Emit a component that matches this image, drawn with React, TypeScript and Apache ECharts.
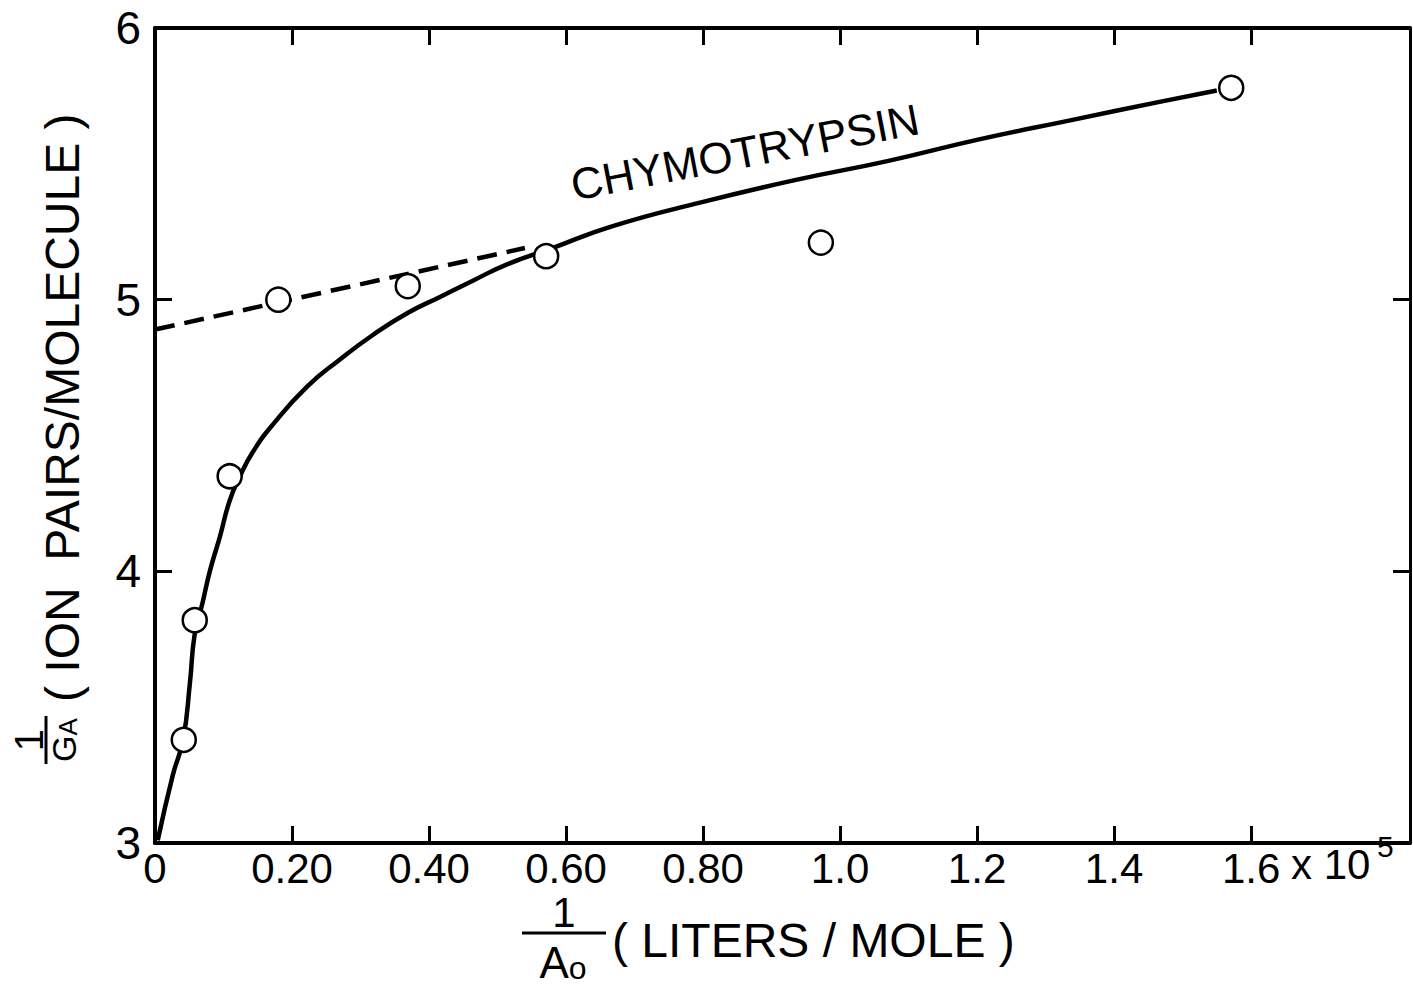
import React, { useEffect, useRef } from "react";
import * as echarts from "echarts";

// 1/Ao (x 10^5 liters/mole) vs 1/GA (ion pairs/molecule)
const pointsX = [0.042, 0.058, 0.109, 0.18, 0.369, 0.571, 0.972, 1.571];
const pointsY = [3.38, 3.82, 4.35, 5.0, 5.05, 5.16, 5.21, 5.78];

const curveX = [0.004, 0.026, 0.041, 0.051, 0.058, 0.069, 0.08, 0.095, 0.109, 0.124, 0.143, 0.172, 0.222, 0.27, 0.318, 0.368, 0.416, 0.464, 0.514, 0.58, 0.667, 0.8, 0.934, 1.069, 1.203, 1.336, 1.47, 1.55];
const curveY = [3.01, 3.25, 3.38, 3.59, 3.77, 3.88, 4.0, 4.13, 4.26, 4.35, 4.44, 4.54, 4.68, 4.78, 4.87, 4.95, 5.01, 5.07, 5.13, 5.19, 5.27, 5.36, 5.44, 5.51, 5.59, 5.66, 5.73, 5.77];

const dashX = [0, 0.54];
const dashY = [4.89, 5.19];

const xTickValues = [0, 0.2, 0.4, 0.6, 0.8, 1.0, 1.2, 1.4, 1.6];
const xTickLabels = ["0", "0.20", "0.40", "0.60", "0.80", "1.0", "1.2", "1.4", "1.6"];
const yTickValues = [3, 4, 5, 6];
const yTickLabels = ["3", "4", "5", "6"];
const yInnerTicks = [4, 5];

const X_MIN = 0;
const X_MAX = 1.832;
const Y_MIN = 3;
const Y_MAX = 6;

const FONT = "Liberation Sans";

function labelFor(values: number[], labels: string[], v: number): string {
  for (let i = 0; i < values.length; i++) {
    if (Math.abs(values[i] - v) < 1e-6) return labels[i];
  }
  return "";
}

export default function App() {
  const ref = useRef<HTMLDivElement>(null);

  useEffect(() => {
    if (!ref.current) return;
    const chart = echarts.init(ref.current, null, { renderer: "svg" });

    const curve = curveX.map((x, i) => [x, curveY[i]]);
    const dash = dashX.map((x, i) => [x, dashY[i]]);
    const pts = pointsX.map((x, i) => [x, pointsY[i]]);

    const tickStyle = { color: "#000", width: 3 };
    const axisLine = (w: number) => ({ show: true, onZero: false, lineStyle: { color: "#000", width: w } });

    chart.setOption({
      animation: false,
      backgroundColor: "#fff",
      grid: { left: 155, right: 3, top: 28, bottom: 148, containLabel: false, outerBoundsMode: "none" },
      xAxis: [
        {
          type: "value",
          min: X_MIN,
          max: X_MAX,
          position: "bottom",
          axisLine: axisLine(4),
          splitLine: { show: false },
          axisTick: { show: true, inside: true, length: 17, lineStyle: tickStyle, customValues: xTickValues },
          axisLabel: {
            customValues: xTickValues,
            formatter: (v: number) => labelFor(xTickValues, xTickLabels, v),
            color: "#000",
            fontFamily: FONT,
            fontSize: 42,
            margin: 4,
          },
        },
        {
          type: "value",
          min: X_MIN,
          max: X_MAX,
          position: "top",
          axisLine: axisLine(4),
          splitLine: { show: false },
          axisTick: { show: true, inside: true, length: 17, lineStyle: tickStyle, customValues: xTickValues.slice(1) },
          axisLabel: { show: false },
        },
      ],
      yAxis: [
        {
          type: "value",
          min: Y_MIN,
          max: Y_MAX,
          interval: 1,
          position: "left",
          axisLine: axisLine(4),
          splitLine: { show: false },
          axisTick: { show: true, inside: true, length: 17, lineStyle: tickStyle, customValues: yInnerTicks },
          axisLabel: {
            customValues: yTickValues,
            formatter: (v: number) => labelFor(yTickValues, yTickLabels, v),
            color: "#000",
            fontFamily: FONT,
            fontSize: 46,
            margin: 14,
          },
        },
        {
          type: "value",
          min: Y_MIN,
          max: Y_MAX,
          interval: 1,
          position: "right",
          axisLine: axisLine(3),
          splitLine: { show: false },
          axisTick: { show: true, inside: true, length: 17, lineStyle: tickStyle, customValues: yInnerTicks },
          axisLabel: { show: false },
        },
      ],
      series: [
        {
          type: "line",
          data: curve,
          smooth: 0.5,
          showSymbol: false,
          symbol: "none",
          lineStyle: { color: "#000", width: 4.5 },
          z: 2,
        },
        {
          type: "line",
          data: dash,
          showSymbol: false,
          symbol: "none",
          lineStyle: { color: "#000", width: 4.5, type: [20, 10] },
          z: 2,
        },
        {
          type: "scatter",
          data: pts,
          symbol: "circle",
          symbolSize: 24,
          itemStyle: { color: "#fff", borderColor: "#000", borderWidth: 2.5, opacity: 1 },
          z: 3,
        },
      ],
      graphic: [
        {
          type: "text",
          x: 745,
          y: 152,
          rotation: 0.19,
          style: {
            text: "CHYMOTRYPSIN",
            fontFamily: FONT,
            fontSize: 44,
            fill: "#000",
            textAlign: "center",
            textVerticalAlign: "middle",
          },
        },
        {
          type: "text",
          x: 1291,
          y: 864,
          style: { text: "x 10", fontFamily: FONT, fontSize: 42, fill: "#000", textAlign: "left", textVerticalAlign: "middle" },
        },
        {
          type: "text",
          x: 1377,
          y: 846,
          style: { text: "5", fontFamily: FONT, fontSize: 30, fill: "#000", textAlign: "left", textVerticalAlign: "middle" },
        },
        // x-axis title
        {
          type: "text",
          x: 564,
          y: 912,
          style: { text: "1", fontFamily: FONT, fontSize: 42, fill: "#000", textAlign: "center", textVerticalAlign: "middle" },
        },
        {
          type: "line",
          shape: { x1: 522, y1: 933, x2: 606, y2: 933 },
          style: { stroke: "#000", lineWidth: 3 },
        },
        {
          type: "text",
          x: 563,
          y: 962,
          style: {
            text: "{a|A}{b|o}",
            textAlign: "center",
            textVerticalAlign: "middle",
            rich: {
              a: { fontFamily: FONT, fontSize: 44, fill: "#000", verticalAlign: "bottom" },
              b: { fontFamily: FONT, fontSize: 32, fill: "#000", verticalAlign: "bottom" },
            },
          },
        },
        {
          type: "text",
          x: 612,
          y: 940,
          style: { text: "( LITERS / MOLE )", fontFamily: FONT, fontSize: 48, fill: "#000", textAlign: "left", textVerticalAlign: "middle" },
        },
        // y-axis title (rotated)
        {
          type: "group",
          x: 62,
          y: 740,
          rotation: Math.PI / 2,
          children: [
            {
              type: "text",
              x: 0,
              y: -33,
              style: { text: "1", fontFamily: FONT, fontSize: 40, fill: "#000", textAlign: "center", textVerticalAlign: "middle" },
            },
            {
              type: "line",
              shape: { x1: -24, y1: -16, x2: 24, y2: -16 },
              style: { stroke: "#000", lineWidth: 3 },
            },
            {
              type: "text",
              x: 0,
              y: 2,
              style: {
                text: "{a|G}{b|A}",
                textAlign: "center",
                textVerticalAlign: "middle",
                rich: {
                  a: { fontFamily: FONT, fontSize: 34, fill: "#000", verticalAlign: "bottom" },
                  b: { fontFamily: FONT, fontSize: 26, fill: "#000", verticalAlign: "bottom" },
                },
              },
            },
            {
              type: "text",
              x: 38,
              y: 0,
              style: {
                text: "( ION  PAIRS/MOLECULE )",
                fontFamily: FONT,
                fontSize: 48,
                fill: "#000",
                textAlign: "left",
                textVerticalAlign: "middle",
              },
            },
          ],
        },
      ],
    });

    return () => {
      chart.dispose();
    };
  }, []);

  return (
    <div
      ref={ref}
      style={{ position: "fixed", left: 0, top: 0, width: 1413, height: 991, background: "#fff" }}
    />
  );
}
